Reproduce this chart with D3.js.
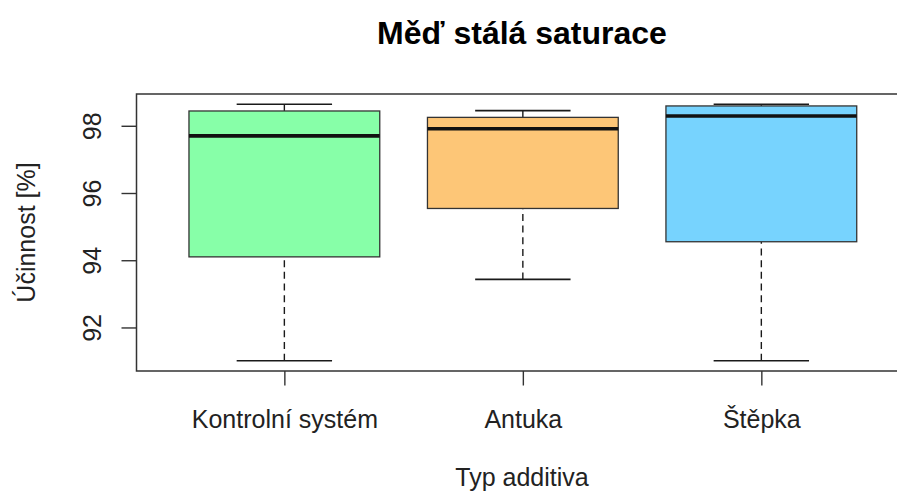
<!DOCTYPE html>
<html>
<head>
<meta charset="utf-8">
<script src="https://cdn.jsdelivr.net/npm/d3@7"></script>
<style>
  html, body { margin: 0; padding: 0; background: #fff; overflow: hidden; width: 897px; height: 496px; }
  svg { display: block; overflow: hidden; font-family: "Liberation Sans", Arial, sans-serif; }
</style>
</head>
<body>
<svg id="chart" width="897" height="496" viewBox="0 0 897 496"></svg>
<script>
// Box-plot summary per additive type (účinnost v %)
const categories = ["Kontrolní systém", "Antuka", "Štěpka"];
const whiskerLow  = [91.01, 93.43, 91.01];
const quartile1   = [94.10, 95.54, 94.55];
const medians     = [97.70, 97.91, 98.29];
const quartile3   = [98.44, 98.25, 98.59];
const whiskerHigh = [98.64, 98.45, 98.64];
const fills = ["#87FFA8", "#FDC677", "#77D3FE"];
const yTicks = [92, 94, 96, 98];

const W = 897, H = 496;
const svg = d3.select("#chart");
const plot = { left: 136.5, right: 909.2, top: 94, bottom: 371 };

// everything is clipped to the canvas; the frame runs past the right edge
svg.append("defs").append("clipPath").attr("id", "canvas")
  .append("rect").attr("width", W).attr("height", H);
const root = svg.append("g").attr("clip-path", "url(#canvas)");

// R-style axis ranges: 4% padding around the data / group positions
const lo = d3.min(whiskerLow), hi = d3.max(whiskerHigh);
const pad = (hi - lo) * 0.04;
const y = d3.scaleLinear().domain([lo - pad, hi + pad]).range([plot.bottom, plot.top]);
const x = d3.scaleLinear().domain([0.38, categories.length + 0.62]).range([plot.left, plot.right]);

const boxHalf = 0.4, capHalf = 0.2;
const ink = "#1a1a1a";

const groups = root.append("g").selectAll("g")
  .data(categories.map((c, i) => ({ c, i, pos: i + 1 })))
  .join("g");

// dashed whiskers
groups.append("line")
  .attr("x1", d => x(d.pos)).attr("x2", d => x(d.pos))
  .attr("y1", d => y(whiskerLow[d.i])).attr("y2", d => y(quartile1[d.i]))
  .attr("stroke", ink).attr("stroke-width", 1.4).attr("stroke-dasharray", "7,4.7");
groups.append("line")
  .attr("x1", d => x(d.pos)).attr("x2", d => x(d.pos))
  .attr("y1", d => y(whiskerHigh[d.i])).attr("y2", d => y(quartile3[d.i]))
  .attr("stroke", ink).attr("stroke-width", 1.4).attr("stroke-dasharray", "7,4.7");

// whisker caps
[whiskerLow, whiskerHigh].forEach(arr => {
  groups.append("line")
    .attr("x1", d => x(d.pos - capHalf)).attr("x2", d => x(d.pos + capHalf))
    .attr("y1", d => y(arr[d.i])).attr("y2", d => y(arr[d.i]))
    .attr("stroke", ink).attr("stroke-width", 1.6);
});

// boxes
groups.append("rect")
  .attr("x", d => x(d.pos - boxHalf))
  .attr("width", d => x(d.pos + boxHalf) - x(d.pos - boxHalf))
  .attr("y", d => y(quartile3[d.i]))
  .attr("height", d => y(quartile1[d.i]) - y(quartile3[d.i]))
  .attr("fill", d => fills[d.i])
  .attr("stroke", "#333").attr("stroke-width", 1.3);

// medians
groups.append("line")
  .attr("x1", d => x(d.pos - boxHalf)).attr("x2", d => x(d.pos + boxHalf))
  .attr("y1", d => y(medians[d.i])).attr("y2", d => y(medians[d.i]))
  .attr("stroke", "#111").attr("stroke-width", 3.6);

// plot frame (right side lies beyond the canvas)
root.append("path")
  .attr("d", `M${plot.right},${plot.top}H${plot.left}V${plot.bottom}H${plot.right}`)
  .attr("fill", "none").attr("stroke", "#333").attr("stroke-width", 1.5);

// y axis
const yAxis = root.append("g")
  .attr("transform", `translate(${plot.left},0)`)
  .call(d3.axisLeft(y).tickValues(yTicks).tickSize(15).tickFormat(d3.format("d")));
yAxis.select(".domain").remove();
yAxis.selectAll(".tick line").attr("stroke", "#333").attr("stroke-width", 1.4);
yAxis.selectAll(".tick text")
  .attr("font-size", 25).attr("fill", "#222")
  .attr("transform", "rotate(-90)")
  .attr("x", 0).attr("y", -36).attr("dy", 0)
  .attr("text-anchor", "middle");

// x axis
const xAxis = root.append("g")
  .attr("transform", `translate(0,${plot.bottom})`)
  .call(d3.axisBottom(x).tickValues(categories.map((c, i) => i + 1))
    .tickSize(14.5).tickFormat(v => categories[v - 1]));
xAxis.select(".domain").remove();
xAxis.selectAll(".tick line").attr("stroke", "#333").attr("stroke-width", 1.4);
xAxis.selectAll(".tick text")
  .attr("font-size", 25).attr("fill", "#222")
  .attr("y", 57).attr("dy", 0);

// titles
root.append("text")
  .attr("x", 522).attr("y", 43.5)
  .attr("text-anchor", "middle")
  .attr("font-size", 32).attr("font-weight", "bold").attr("fill", "#000")
  .text("Měď stálá saturace");
root.append("text")
  .attr("x", 522).attr("y", 486)
  .attr("text-anchor", "middle")
  .attr("font-size", 25).attr("fill", "#222")
  .text("Typ additiva");
root.append("text")
  .attr("transform", `translate(35,${(plot.top + plot.bottom) / 2}) rotate(-90)`)
  .attr("text-anchor", "middle")
  .attr("font-size", 25).attr("fill", "#222")
  .text("Účinnost [%]");
</script>
</body>
</html>
